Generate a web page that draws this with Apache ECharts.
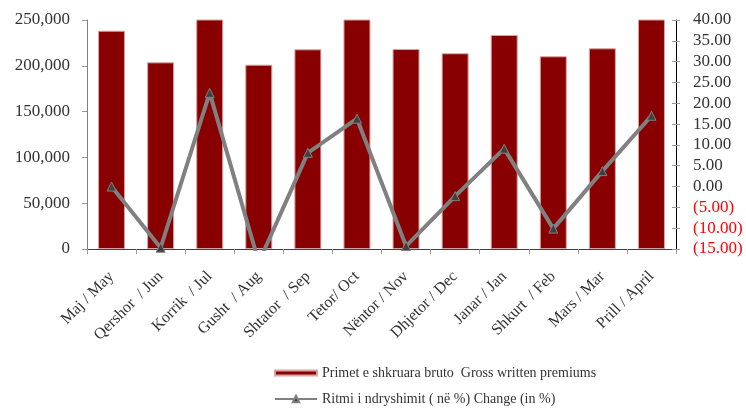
<!DOCTYPE html>
<html>
<head>
<meta charset="utf-8">
<script src="https://cdn.jsdelivr.net/npm/echarts@6/dist/echarts.min.js"></script>
<style>html,body{margin:0;padding:0;background:#fff}#c{width:746px;height:408px}</style>
</head>
<body>
<div id="c"></div>
<script>
const categories = ['Maj / May','Qershor  / Jun','Korrik  / Jul','Gusht  / Aug','Shtator  / Sep','Tetor/ Oct','Nëntor / Nov','Dhjetor / Dec','Janar / Jan','Shkurt  / Feb','Mars / Mar','Prill / April'];
const premiums = [238300, 203800, 265000, 201200, 218000, 258000, 218300, 213700, 233600, 210400, 219100, 262000];
const change = [0.0, -14.7, 22.5, -18.2, 8.1, 16.3, -14.3, -2.3, 9.1, -10.1, 3.7, 17.0];
const leftTicks = [0, 50000, 100000, 150000, 200000, 250000];
const rightTicks = [-15, -10, -5, 0, 5, 10, 15, 20, 25, 30, 35, 40];
const barName = 'Primet e shkruara bruto  Gross written premiums';
const lineName = 'Ritmi i ndryshimit ( në %) Change (in %)';

const font = 'Liberation Serif';
const chart = echarts.init(document.getElementById('c'));
chart.setOption({
  animation: false,
  textStyle: {fontFamily: font},
  grid: {left: 87, right: 70, top: 20, bottom: 159},
  legend: [
    {data: [barName], left: 269, top: 361, itemWidth: 42, itemHeight: 5, itemGap: 4, icon: 'rect',
     textStyle: {fontFamily: font, fontSize: 14, color: '#333'}},
    {data: [lineName], left: 269, top: 387, itemWidth: 42, itemHeight: 8, itemGap: 4,
     textStyle: {fontFamily: font, fontSize: 14, color: '#333'}}
  ],
  xAxis: {
    type: 'category', data: categories,
    axisLine: {lineStyle: {color: '#404040', width: 1}},
    axisTick: {show: true, alignWithLabel: false, length: 5, lineStyle: {color: '#999'}},
    axisLabel: {rotate: 45, interval: 0, fontSize: 16, color: '#333', margin: 25, fontFamily: font}
  },
  yAxis: [
    {type: 'value', min: leftTicks[0], max: leftTicks[leftTicks.length-1], interval: 50000,
     splitLine: {show: false},
     axisLine: {show: true, lineStyle: {color: '#808080'}},
     axisTick: {show: true, length: 5, lineStyle: {color: '#999'}},
     axisLabel: {fontSize: 17, color: '#333', margin: 17, fontFamily: font,
       formatter: v => v.toLocaleString('en-US')}},
    {type: 'value', position: 'right', min: rightTicks[0], max: rightTicks[rightTicks.length-1], interval: 5,
     splitLine: {show: false},
     axisLine: {show: true, lineStyle: {color: '#000'}},
     axisTick: {show: true, length: 4, lineStyle: {color: '#999'}},
     axisLabel: {fontSize: 17, margin: 17, fontFamily: font,
       color: v => (v < 0 ? '#ff0000' : '#333'),
       formatter: v => v < 0 ? '(' + Math.abs(v).toFixed(2) + ')' : v.toFixed(2)}},
    {type: 'value', position: 'right', min: rightTicks[0], max: rightTicks[rightTicks.length-1], interval: 5,
     splitLine: {show: false},
     axisLine: {show: false},
     axisTick: {show: true, inside: true, length: 4, lineStyle: {color: '#999'}},
     axisLabel: {show: false}}
  ],
  series: [
    {name: barName, type: 'bar', yAxisIndex: 0, data: premiums, barCategoryGap: '45%',
     itemStyle: {color: '#880000', borderColor: '#d9a3a3', borderWidth: 1}},
    {name: lineName, type: 'line', yAxisIndex: 1, data: change, clip: true,
     symbol: 'triangle', symbolSize: 9, z: 5,
     lineStyle: {color: '#808080', width: 4},
     itemStyle: {color: '#404040', borderColor: '#808080', borderWidth: 1}}
  ]
});
</script>
</body>
</html>
